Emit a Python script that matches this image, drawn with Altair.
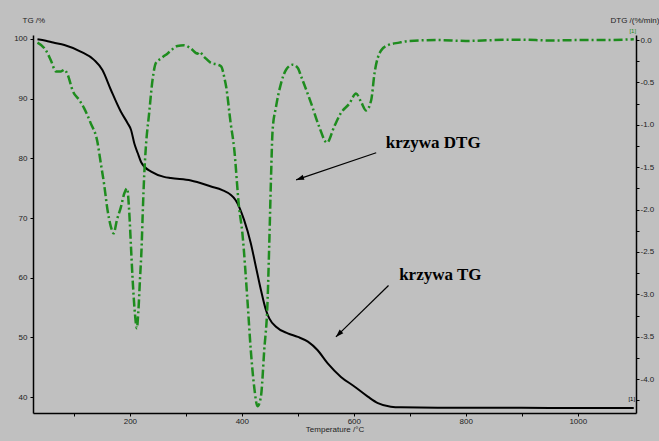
import altair as alt
import pandas as pd

# ---- data ----
temp_tg = [35, 50, 63, 83, 112, 136, 151, 166, 184, 196, 202, 208, 214, 220, 226, 238,
           261, 273, 309, 345, 365, 380, 389, 404, 416, 425, 434, 443, 449, 461, 482,
           500, 518, 535, 553, 577, 601, 625, 643, 666, 684, 750, 850, 950, 1050, 1100]
tg_values = [99.95, 99.7, 99.4, 99.0, 97.9, 96.5, 94.8, 91.5, 87.8, 85.9, 84.8, 82.5,
             80.9, 79.4, 78.6, 77.8, 76.9, 76.7, 76.3, 75.3, 74.7, 73.9, 73.0, 69.7,
             65.8, 61.9, 58.0, 54.6, 53.2, 51.8, 50.7, 50.1, 49.3, 47.9, 45.7, 43.4,
             41.8, 40.1, 39.0, 38.4, 38.3, 38.25, 38.25, 38.2, 38.2, 38.2]

temp_dtg = [35, 50, 59, 68, 77, 83, 89, 98, 110, 118, 130, 142, 148, 154, 160, 166, 171,
            177, 184, 190, 195, 199, 202, 205, 209, 212.5, 215, 218, 221, 223, 225.6,
            228.6, 234.5, 240.5, 246.5, 255, 267, 285, 297, 309, 321, 324, 333, 345,
            357, 363, 369, 372, 380, 386, 395, 401, 410, 416, 422, 428, 434, 440, 446,
            449, 452, 455, 461, 470, 479, 491, 500, 506, 524, 538, 552, 565, 577, 592,
            604, 613, 622, 631, 637, 649, 661, 681, 700, 750, 800, 850, 900, 950, 1000,
            1050, 1100]
dtg_values = [-0.03, -0.12, -0.24, -0.37, -0.37, -0.35, -0.41, -0.60, -0.71, -0.80,
              -0.98, -1.20, -1.45, -1.70, -2.00, -2.20, -2.28, -2.12, -1.97, -1.81,
              -1.75, -2.04, -2.44, -2.83, -3.22, -3.40, -3.22, -2.83, -2.44, -2.04,
              -1.60, -1.26, -0.86, -0.47, -0.27, -0.22, -0.16, -0.07, -0.06, -0.10,
              -0.16, -0.14, -0.20, -0.27, -0.29, -0.31, -0.45, -0.55, -0.98, -1.26,
              -1.97, -2.28, -3.07, -3.66, -4.09, -4.32, -4.21, -3.66, -3.07, -2.40,
              -1.65, -1.06, -0.79, -0.51, -0.35, -0.29, -0.33, -0.43, -0.75, -1.02,
              -1.21, -1.02, -0.86, -0.75, -0.63, -0.73, -0.83, -0.71, -0.39, -0.12,
              -0.06, -0.03, -0.01, 0.0, -0.01, 0.0, 0.005, -0.005, 0.0, 0.0, 0.01]

x_ticks = [100, 200, 300, 400, 500, 600, 700, 800, 900, 1000]
tg_ticks = [40, 50, 60, 70, 80, 90, 100]
dtg_ticks = [0.0, -0.25, -0.5, -0.75, -1.0, -1.25, -1.5, -1.75, -2.0, -2.25, -2.5,
             -2.75, -3.0, -3.25, -3.5, -3.75, -4.0, -4.25]

label_texts = ["krzywa DTG", "krzywa TG"]
label_T = [657, 681]
label_TG = [81.7, 59.6]

arrow_T = [640, 662]
arrow_TG = [80.95, 58.7]
arrow_T2 = [497, 568]
arrow_TG2 = [76.4, 50.1]
arrow_angle = [251, 225]

X_DOMAIN = [27, 1104]
TG_DOMAIN = [37.35, 100.67]
DTG_DOMAIN = [-4.40, 0.06]

FONT = "Liberation Sans"
GREEN = "#1e8c1e"
LABEL_COLOR = "#222222"

tg_df = pd.DataFrame({"T": temp_tg, "TG": tg_values})
dtg_df = pd.DataFrame({"T": temp_dtg, "DTG": dtg_values})
lab_df = pd.DataFrame({"T": label_T, "TG": label_TG, "text": label_texts})
arr_df = pd.DataFrame({"T": arrow_T, "TG": arrow_TG, "T2": arrow_T2, "TG2": arrow_TG2,
                       "angle": arrow_angle})

xscale = alt.Scale(domain=X_DOMAIN, nice=False, zero=False)
tgscale = alt.Scale(domain=TG_DOMAIN, nice=False, zero=False)
dtgscale = alt.Scale(domain=DTG_DOMAIN, nice=False, zero=False)

common_axis = dict(
    labelFont=FONT, labelFontSize=8, labelColor=LABEL_COLOR,
    titleFont=FONT, titleFontSize=8, titleFontWeight="normal", titleColor=LABEL_COLOR,
    domainColor="black", domainWidth=1.5, tickColor="black", tickSize=3,
    grid=False, labelFlush=False, labelOverlap=False,
)

x_axis = alt.Axis(
    values=x_ticks, title="Temperature /°C",
    labelExpr="datum.value % 200 == 0 ? format(datum.value, 'd') : ''",
    labelPadding=1, titleY=18, titleBaseline="alphabetic", titleAnchor="middle",
    **common_axis,
)

tg_axis = alt.Axis(
    values=tg_ticks, orient="left", title="TG /%", format="d",
    titleAngle=0, titleAlign="left", titleBaseline="middle", titleX=-11, titleY=-15,
    labelPadding=3, **common_axis,
)
dtg_axis = alt.Axis(
    values=dtg_ticks, orient="right", title="DTG /(%/min)",
    labelExpr="abs(datum.value*2 - round(datum.value*2)) < 0.001 ? "
              "(datum.value < -0.001 ? '-' + format(-datum.value, '.1f') : format(abs(datum.value), '.1f')) : ''",
    titleAngle=0, titleAlign="left", titleBaseline="middle", titleX=-26, titleY=-15,
    labelPadding=1, **common_axis,
)


def xe(field="T"):
    return alt.X(f"{field}:Q", scale=xscale, axis=x_axis)


def tge(field="TG"):
    return alt.Y(f"{field}:Q", scale=tgscale, axis=tg_axis)


def dtge(field="DTG"):
    return alt.Y(f"{field}:Q", scale=dtgscale, axis=dtg_axis)


tg_line = alt.Chart(tg_df).mark_line(color="black", strokeWidth=2, interpolate="monotone").encode(
    x=xe(), y=tge()
)

tg_marker = alt.Chart(tg_df.tail(1)).mark_text(
    text="[1]", font=FONT, fontSize=6, color="black", dx=-2, dy=-9
).encode(x=xe(), y=tge())

labels = alt.Chart(lab_df).mark_text(
    font="Liberation Serif", fontSize=17, fontWeight="bold", color="black",
    align="left", baseline="alphabetic"
).encode(x=xe(), y=tge(), text="text:N")

shafts = alt.Chart(arr_df).mark_rule(color="black", strokeWidth=1.2).encode(
    x=xe(), y=tge(), x2="T2:Q", y2="TG2:Q"
)

heads = alt.Chart(arr_df).mark_point(
    shape="M0,0L-0.5,1.5L0.5,1.5Z", filled=True, color="black", opacity=1, size=110
).encode(
    x=xe("T2"), y=tge("TG2"),
    angle=alt.Angle("angle:Q", scale=None),
)

tg_group = alt.layer(tg_line, shafts, heads, labels, tg_marker)

dtg_line = alt.Chart(dtg_df).mark_line(
    color=GREEN, strokeWidth=2.5, strokeDash=[9, 3, 2, 3], interpolate="monotone"
).encode(x=xe(), y=dtge())

dtg_marker = alt.Chart(dtg_df.tail(1)).mark_text(
    text="[1]", font=FONT, fontSize=6, color=GREEN, dx=-1, dy=-8
).encode(x=xe(), y=dtge())

dtg_group = alt.layer(dtg_line, dtg_marker)

chart = alt.layer(tg_group, dtg_group).resolve_scale(y="independent").properties(
    width=603, height=378,
    padding={"left": 33, "top": 35, "right": 23, "bottom": 28},
    autosize=alt.AutoSizeParams(type="none"),
    background="#C0C0C0",
).configure_view(stroke=None)

chart.save("out.html", embed_options={"renderer": "svg", "actions": False})
